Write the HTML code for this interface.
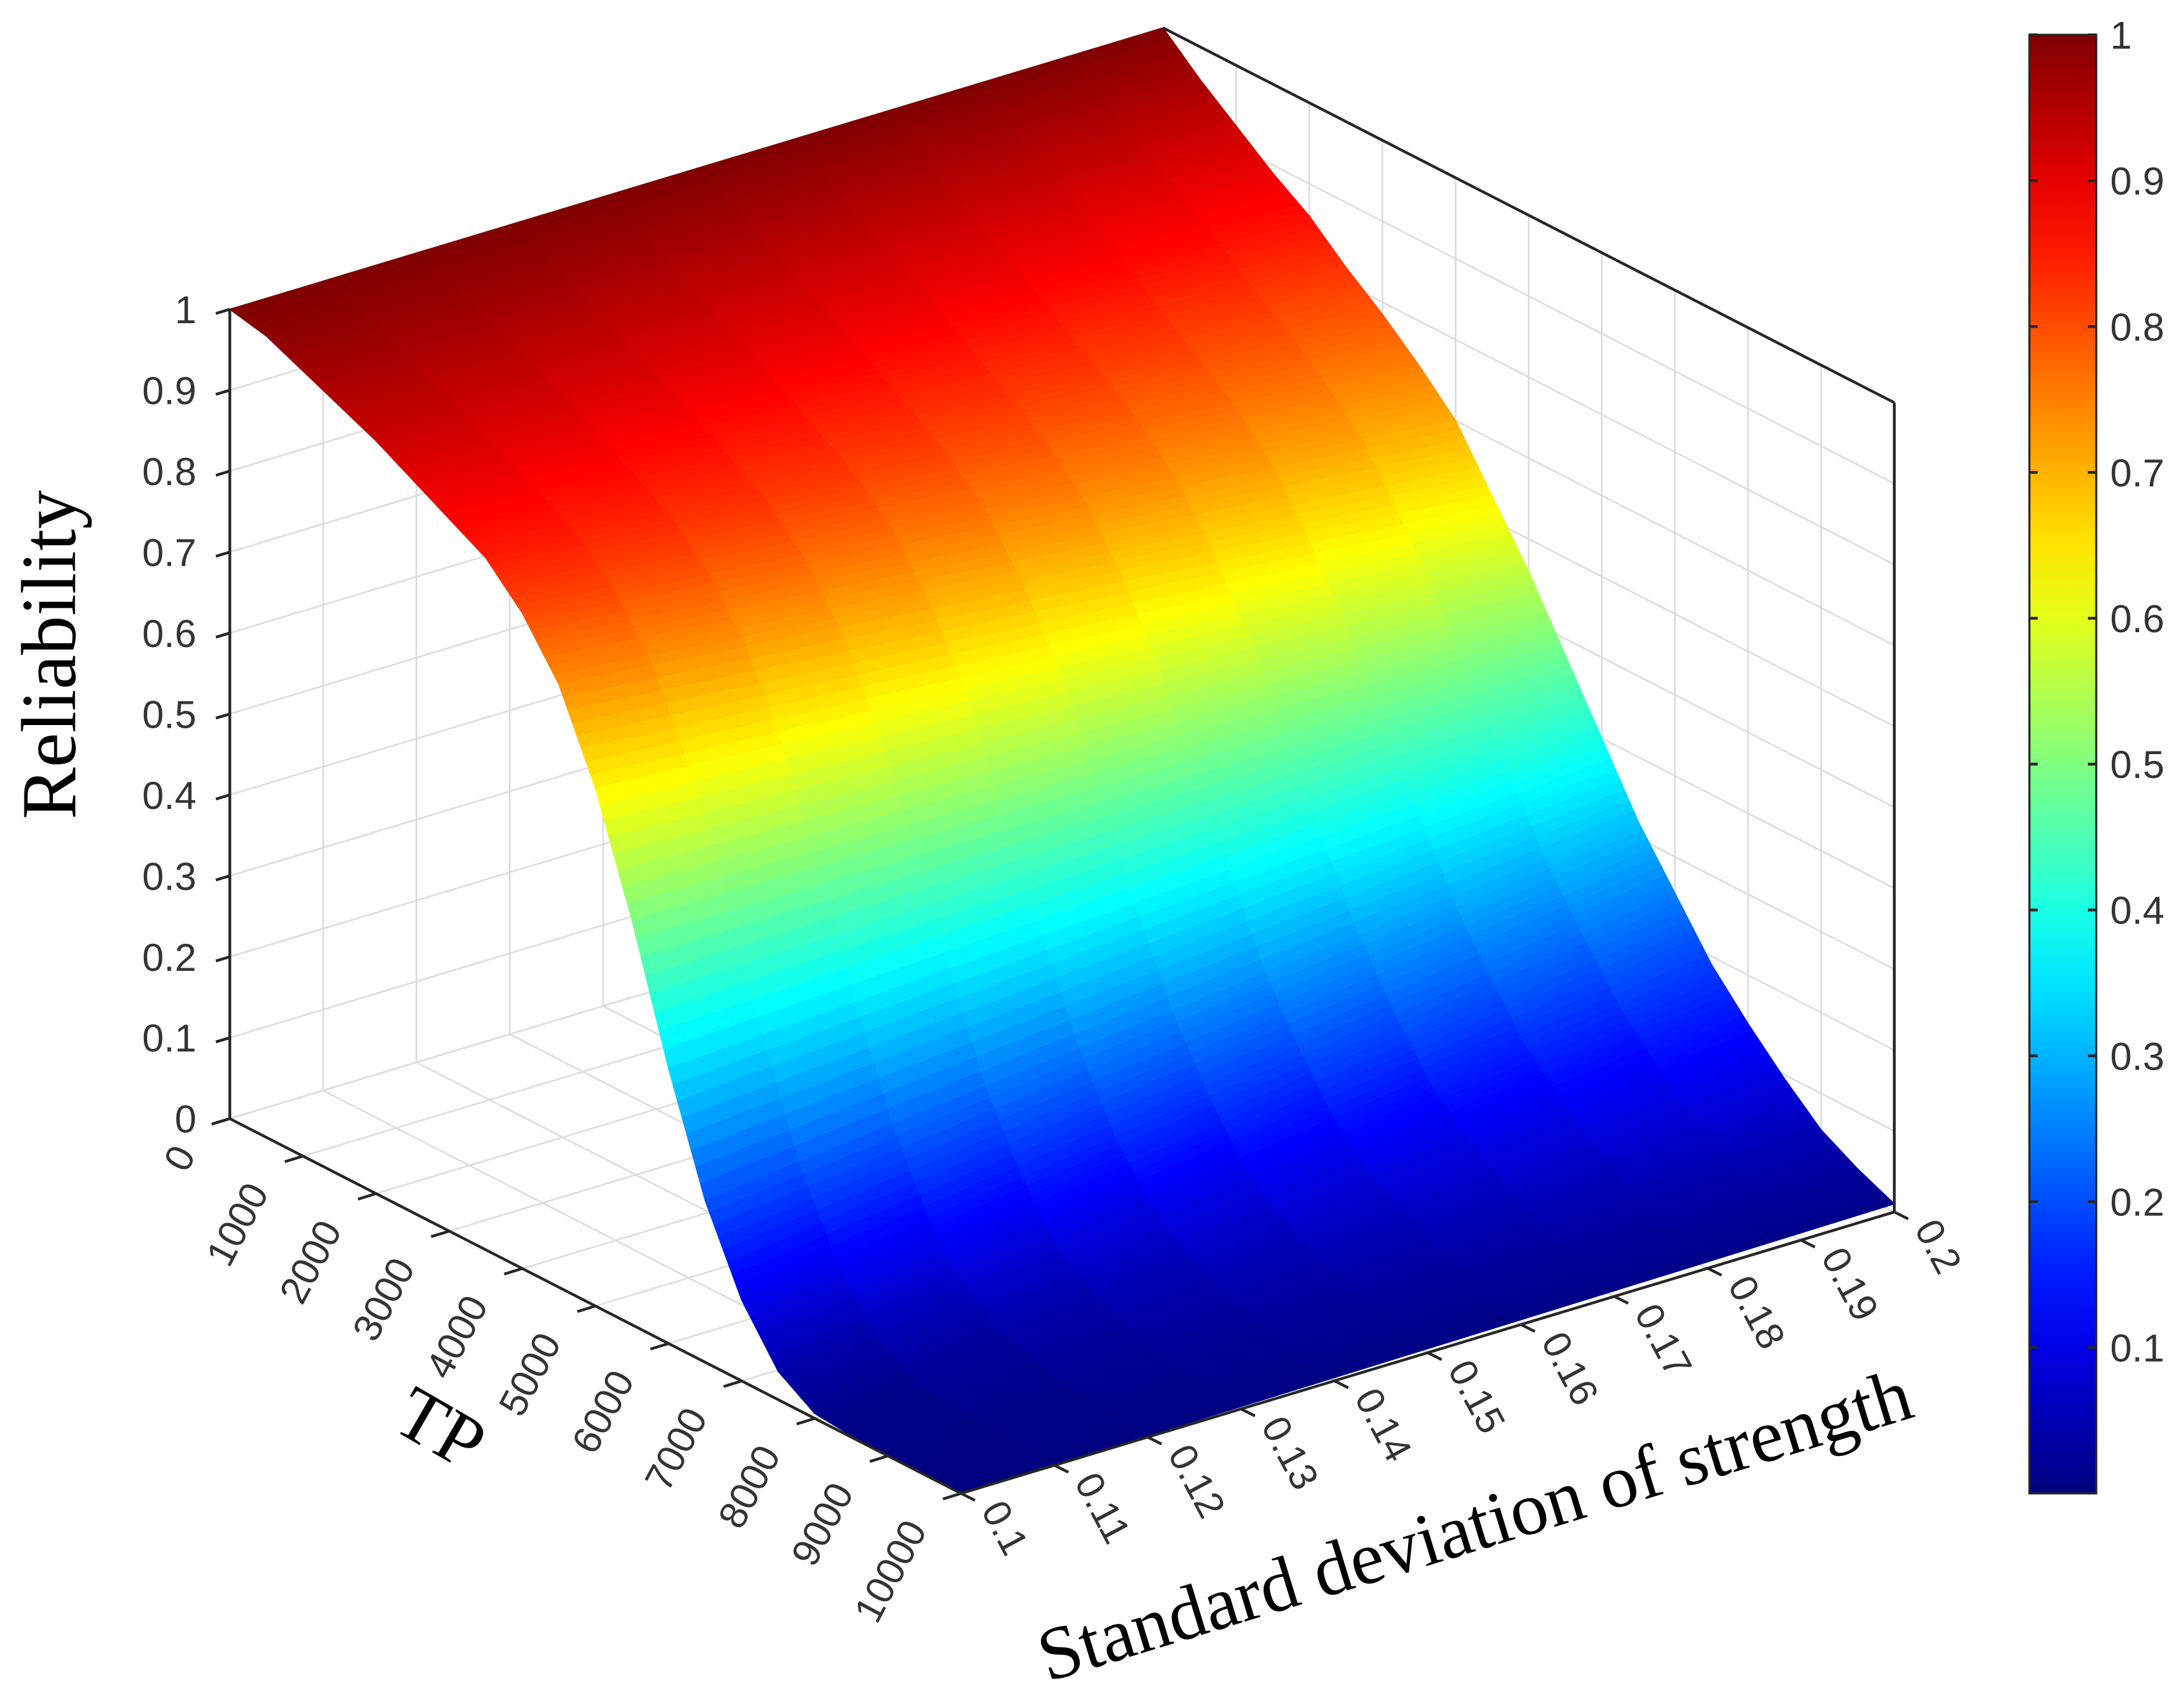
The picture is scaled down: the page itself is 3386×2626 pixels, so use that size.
<!DOCTYPE html>
<html><head><meta charset="utf-8"><style>
html,body{margin:0;padding:0;background:#fff;}
svg{display:block;}
</style></head><body>
<svg id="chart" xmlns="http://www.w3.org/2000/svg" width="3386" height="2626" viewBox="0 0 1568 1216" preserveAspectRatio="none">
<g id="grid"></g>
<g id="surface"></g>
<g id="axes"></g>
<g id="colorbar"></g>
<text x="0" y="0" transform="translate(54,470) rotate(-90)" text-anchor="middle" font-family="Liberation Serif, serif" font-size="56" fill="#000">Reliability</text>
<text transform="translate(280,1025) rotate(30)" font-family="Liberation Serif, serif" font-size="54" fill="#000">TP</text>
<text transform="translate(1064,1112) rotate(-17)" text-anchor="middle" font-family="Liberation Serif, serif" font-size="54" fill="#000">Standard deviation of strength</text>
</svg>
<script>
const tpValues=[0,500,1000,1500,2000,2500,3000,3500,4000,4500,5000,5500,6000,6500,7000,7500,8000,8500,9000,9500,10000];
const relSd010=[1,0.99,0.97,0.95,0.93,0.905,0.88,0.855,0.81,0.745,0.64,0.5,0.34,0.2,0.1,0.035,0.006,0.002,0,0,0];
const relSd020=[1,0.96,0.925,0.89,0.86,0.82,0.785,0.745,0.7,0.63,0.56,0.48,0.4,0.32,0.255,0.19,0.14,0.095,0.055,0.03,0.01];
const sdValues=[0.1,0.11,0.12,0.13,0.14,0.15,0.16,0.17,0.18,0.19,0.2];
const zTicks=[0,0.1,0.2,0.3,0.4,0.5,0.6,0.7,0.8,0.9,1];
const tpTicks=[0,1000,2000,3000,4000,5000,6000,7000,8000,9000,10000];
const tpTickLabels=['0','1000','2000','3000','4000','5000','6000','7000','8000','9000','10000'];
const sdTickLabels=['0.1','0.11','0.12','0.13','0.14','0.15','0.16','0.17','0.18','0.19','0.2'];
const cbTicks=[0.1,0.2,0.3,0.4,0.5,0.6,0.7,0.8,0.9,1];

const NS='http://www.w3.org/2000/svg';
function P(tp,sd,z){const t=tp/10000,s=(sd-0.1)/0.1;return [165+525*t+670*s,803+269*t-202*s-581*z];}
function mk(tag,attrs,parent){const e=document.createElementNS(NS,tag);for(const k in attrs)e.setAttribute(k,attrs[k]);parent.appendChild(e);return e;}
function jet(v){v=Math.max(0,Math.min(1,v));
 const r=Math.max(0,Math.min(1,1.5-Math.abs(4*v-3))),g=Math.max(0,Math.min(1,1.5-Math.abs(4*v-2))),b=Math.max(0,Math.min(1,1.5-Math.abs(4*v-1)));
 return 'rgb('+Math.round(r*255)+','+Math.round(g*255)+','+Math.round(b*255)+')';}
function R(i,sd){const f=(sd-0.1)/0.1;return relSd010[i]*(1-f)+relSd020[i]*f;}

const grid=document.getElementById('grid'),surf=document.getElementById('surface'),axes=document.getElementById('axes'),cb=document.getElementById('colorbar');
function line(p,q,parent,name,stroke,w){const l=mk('line',{x1:p[0],y1:p[1],x2:q[0],y2:q[1],stroke:stroke,'stroke-width':w},parent);


return l;}
const gc='#dcdcdc';
zTicks.forEach(z=>{line(P(0,0.1,z),P(0,0.2,z),grid,'grid-z-left-wall',gc,1.2);line(P(0,0.2,z),P(10000,0.2,z),grid,'grid-z-right-wall',gc,1.2);});
sdValues.forEach(sd=>{line(P(0,sd,0),P(0,sd,1),grid,'grid-sd-wall',gc,1.2);line(P(0,sd,0),P(10000,sd,0),grid,'grid-sd-floor',gc,1.2);});
tpTicks.forEach(tp=>{line(P(tp,0.2,0),P(tp,0.2,1),grid,'grid-tp-wall',gc,1.2);line(P(tp,0.1,0),P(tp,0.2,0),grid,'grid-tp-floor',gc,1.2);});

// surface quads, back to front
const quads=[];
for(let i=0;i<tpValues.length-1;i++){for(let j=0;j<sdValues.length-1;j++){quads.push([i,j]);}}
quads.sort((a,b)=>(a[0]-a[1]*2)-(b[0]-b[1]*2));
quads.forEach(([i,j])=>{
 const sub=8;
 for(let k=0;k<sub;k++){
  const f0=k/sub,f1=(k+1)/sub;
  const tpA=tpValues[i]+(tpValues[i+1]-tpValues[i])*f0,tpB=tpValues[i]+(tpValues[i+1]-tpValues[i])*f1;
  const s0=sdValues[j],s1=sdValues[j+1];
  const zA0=R(i,s0)*(1-f0)+R(i+1,s0)*f0,zB0=R(i,s0)*(1-f1)+R(i+1,s0)*f1;
  const zA1=R(i,s1)*(1-f0)+R(i+1,s1)*f0,zB1=R(i,s1)*(1-f1)+R(i+1,s1)*f1;
  const pts=[P(tpA,s0,zA0),P(tpB,s0,zB0),P(tpB,s1,zB1),P(tpA,s1,zA1)];
  const col=jet((zA0+zB0+zA1+zB1)/4);
  const pg=mk('polygon',{points:pts.map(p=>p.join(',')).join(' '),fill:col,stroke:col,'stroke-width':0.8},surf);
  
  
 }
});

// axes lines
const ac='#262626';
line(P(0,0.1,0),P(0,0.1,1),axes,'z-axis-line',ac,2);
line(P(0,0.1,0),P(10000,0.1,0),axes,'tp-axis-line',ac,2);
line(P(10000,0.1,0),P(10000,0.2,0),axes,'sd-axis-line',ac,2);
line(P(10000,0.2,0),P(10000,0.2,1),axes,'back-right-edge',ac,2);
line(P(0,0.2,1),P(10000,0.2,1),axes,'back-top-edge',ac,2);
const lf='Liberation Sans, Arial, sans-serif';
zTicks.forEach(z=>{const p=P(0,0.1,z);line(p,[p[0]-10,p[1]+3],axes,'z-tick',ac,2);
 const t=mk('text',{x:p[0]-24,y:p[1]+10,'text-anchor':'end','font-family':lf,'font-size':28,fill:'#333'},axes);t.textContent=String(z);
 
 });
tpTicks.forEach((tp,k)=>{const p=P(tp,0.1,0);line(p,[p[0]-13,p[1]+4],axes,'tp-tick',ac,2);
 const t=mk('text',{transform:'translate('+(p[0]-24)+','+(p[1]+26)+') rotate(-62)','text-anchor':'end','font-family':lf,'font-size':28,fill:'#333'},axes);t.textContent=tpTickLabels[k];
 
 });
sdValues.forEach((sd,k)=>{const p=P(10000,sd,0);line(p,[p[0]+10,p[1]+5],axes,'sd-tick',ac,2);
 const t=mk('text',{transform:'translate('+(p[0]+14)+','+(p[1]+12)+') rotate(62)','text-anchor':'start','font-family':lf,'font-size':28,fill:'#333'},axes);t.textContent=sdTickLabels[k];
 
 });

// colorbar
const cbX=1457,cbW=48,cbTop=25,cbBot=1072;
function cy(v){return cbTop+(1-v)*(cbBot-cbTop);}
const defs=mk('defs',{},cb);
const lg=mk('linearGradient',{id:'jetg',x1:0,y1:1,x2:0,y2:0},defs);
for(let k=0;k<=20;k++){mk('stop',{offset:k/20,'stop-color':jet(k/20)},lg);}
const rect=mk('rect',{x:cbX,y:cbTop,width:cbW,height:cbBot-cbTop,fill:'url(#jetg)',stroke:ac,'stroke-width':1.5},cb);


cbTicks.forEach(v=>{const y=cy(v);line([cbX+cbW,y],[cbX+cbW-6,y],cb,'colorbar-tick',ac,2);line([cbX,y],[cbX+6,y],cb,'colorbar-tick',ac,2);
 const t=mk('text',{x:cbX+cbW+10,y:y+10,'font-family':lf,'font-size':28,fill:'#333'},cb);t.textContent=String(v);
 
 });
</script>
</body></html>
